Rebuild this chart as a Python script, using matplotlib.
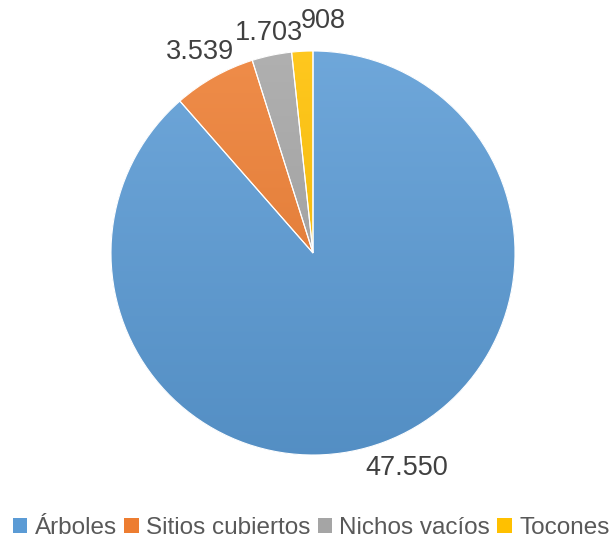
import numpy as np
import matplotlib.pyplot as plt
from matplotlib.colors import to_rgb

plt.rcParams['font.family'] = ['Liberation Sans', 'DejaVu Sans']

categorias = ['Árboles', 'Sitios cubiertos', 'Nichos vacíos', 'Tocones']
valores = [47550, 3539, 1703, 908]
etiquetas = ['47.550', '3.539', '1.703', '908']
colores = ['#5B9BD5', '#ED7D31', '#A5A5A5', '#FFC000']

fig = plt.figure(figsize=(6.15, 5.44), dpi=100)
# centro ~ (313, 253), radio ~ 202 px
ax = fig.add_axes([111/615, 89/544, 404/615, 404/544])

wedges, _ = ax.pie(valores, colors=colores, startangle=90, counterclock=False,
                   radius=1, wedgeprops=dict(linewidth=0))

# degradado vertical tipo Excel (claro arriba, oscuro abajo)
t = np.linspace(0, 1, 256)[:, None, None]
for w, c in zip(wedges, colores):
    c = np.array(to_rgb(c))
    claro = c + (1 - c) * 0.12
    oscuro = c * 0.92
    grad = oscuro + (claro - oscuro) * t
    im = ax.imshow(grad, extent=[-1, 1, -1, 1], origin='lower', aspect='auto',
                   interpolation='bilinear', zorder=2)
    im.set_clip_path(w)

# bordes blancos finos
ax.pie(valores, startangle=90, counterclock=False, radius=1,
       wedgeprops=dict(facecolor='none', edgecolor='white', linewidth=0.8, zorder=3))

ax.set_xlim(-1, 1)
ax.set_ylim(-1, 1)
ax.set_aspect('equal')
ax.axis('off')

# etiquetas fuera del sector
dist = [1.16, 1.14, 1.11, 1.15]
nudge = [-3, 0, 0.5, 5.5]
for w, lab, d, n in zip(wedges, etiquetas, dist, nudge):
    ang = np.deg2rad((w.theta1 + w.theta2) / 2 - n)
    ax.text(d * np.cos(ang), d * np.sin(ang), lab, ha='center', va='center',
            fontsize=19.5, color='#404040')

leg = fig.legend(wedges, categorias, loc='center', bbox_to_anchor=(0.506, 1 - 528/544),
                 ncol=4, frameon=False, fontsize=17.5, handlelength=0.6, handleheight=0.6,
                 handletextpad=0.3, columnspacing=0.3, labelcolor='#595959',
                 borderpad=0.1)

fig.savefig('out.png', dpi=100)
